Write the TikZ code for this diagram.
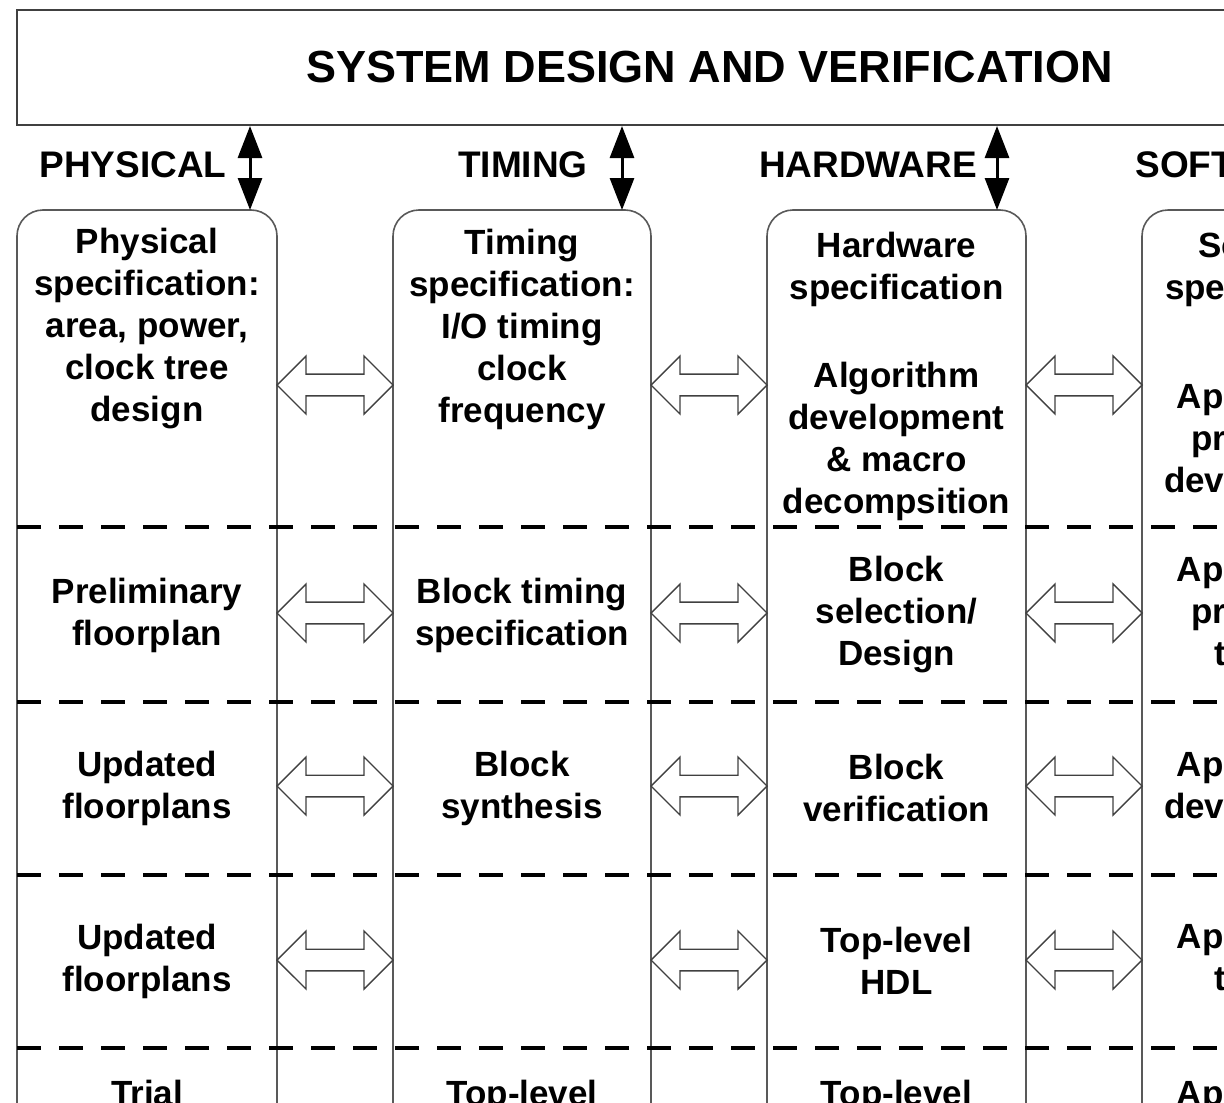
\documentclass[tikz,border=0pt]{standalone}
\usepackage{fontspec}
\setmainfont{Liberation Sans}
\usetikzlibrary{arrows.meta,shapes.arrows}

\begin{document}
\begin{tikzpicture}[x=0.5pt, y=-0.5pt,
    cell/.style={align=center, inner sep=0pt, font=\bfseries\fontsize{17.5}{21}\selectfont},
    lanehead/.style={inner sep=0pt, font=\bfseries\fontsize{18.5}{22}\selectfont},
    lane/.style={draw=black!65, line width=0.8pt, rounded corners=13pt},
    link/.style={double arrow, draw=black!75, line width=0.7pt, fill=white,
      minimum height=58pt, minimum width=29pt, double arrow head extend=9pt,
      inner xsep=0pt, inner ysep=5pt},
    sysarrow/.style={{Triangle[length=16pt,width=12pt]}-{Triangle[length=16pt,width=12pt]}, line width=1.5pt},
    rowline/.style={dash pattern=on 12pt off 9pt, line width=1.6pt}]
    \useasboundingbox (0,0) rectangle (1224,1102);
    \clip (0,0) rectangle (1224,1102);

    \node [draw=black!75, line width=1pt, minimum width=692.5pt, minimum height=57.5pt,
      font=\bfseries\fontsize{22.5}{27}\selectfont] (sys) at (709.5,67.5) {SYSTEM DESIGN AND VERIFICATION};

    \draw [lane] (17,1110) -- (17,210) -- (277,210) -- (277,1110);
    \draw [lane] (393,1110) -- (393,210) -- (651,210) -- (651,1110);
    \draw [lane] (767,1110) -- (767,210) -- (1026,210) -- (1026,1110);
    \draw [lane] (1142,1110) -- (1142,210) -- (1402,210) -- (1402,1110);

    \coordinate (phy) at (250,210);
    \coordinate (tim) at (622,210);
    \coordinate (hw) at (997,210);
    \coordinate (sw) at (1372,210);

    \node [lanehead] at (133,165) {PHYSICAL};
    \node [lanehead] at (523,165) {TIMING};
    \node [lanehead] at (868,165) {HARDWARE};
    \node [lanehead, anchor=west] at (1135,165) {SOFTWARE};

    \path [sysarrow]
    (sys.south -| phy) edge (phy)
    (sys.south -| tim) edge (tim)
    (sys.south -| hw) edge (hw)
    (sys.south -| sw) edge (sw);

    \draw [rowline] (17,527) -- (1224,527) (17,702) -- (1224,702)
    (17,875) -- (1224,875) (17,1048) -- (1224,1048);

    \node [cell] (physpec) at (147,329) {Physical\\specification:\\area, power,\\clock tree\\design};
    \node [cell] (timspec) at (522,329) {Timing\\specification:\\I/O timing\\clock\\frequency};
    \node [cell] (hwspec) at (896.5,269) {Hardware\\specification};
    \node [cell] (hwalg) at (896.5,441) {Algorithm\\development\\\& macro\\decompsition};
    \node [cell] (swspec) at (1272,269) {Software\\specification};
    \node [cell] (swproto) at (1272,441) {Application\\prototype\\development};

    \node [cell] (phyfloor) at (147,615) {Preliminary\\floorplan};
    \node [cell] (timblock) at (522,615) {Block timing\\specification};
    \node [cell] (hwsel) at (896.5,615) {Block\\selection/\\Design};
    \node [cell] (swtest) at (1272,615) {Application\\prototype\\testing};

    \node [cell] (phyupd) at (147,788) {Updated\\floorplans};
    \node [cell] (timsyn) at (522,788) {Block\\synthesis};
    \node [cell] (hwver) at (896.5,788) {Block\\verification};
    \node [cell] (swdev) at (1272,788) {Application\\development};

    \node [cell] (phyupdb) at (147,961) {Updated\\floorplans};
    \node [cell] (hwhdl) at (896.5,961) {Top-level\\HDL};
    \node [cell] (swtop) at (1272,961) {Application\\testing};

    \node [cell, anchor=base] (phytrial) at (147,1105) {Trial};
    \node [cell, anchor=base] (timtop) at (522,1105) {Top-level};
    \node [cell, anchor=base] (hwtop) at (896.5,1105) {Top-level};
    \node [cell, anchor=base] (swapp) at (1272,1105) {Application};

    \node [link] at (335,385) {};
    \node [link] at (709,385) {};
    \node [link] at (1084,385) {};
    \node [link] at (335,613) {};
    \node [link] at (709,613) {};
    \node [link] at (1084,613) {};
    \node [link] at (335,786) {};
    \node [link] at (709,786) {};
    \node [link] at (1084,786) {};
    \node [link] at (335,960) {};
    \node [link] at (709,960) {};
    \node [link] at (1084,960) {};
\end{tikzpicture}
\end{document}
